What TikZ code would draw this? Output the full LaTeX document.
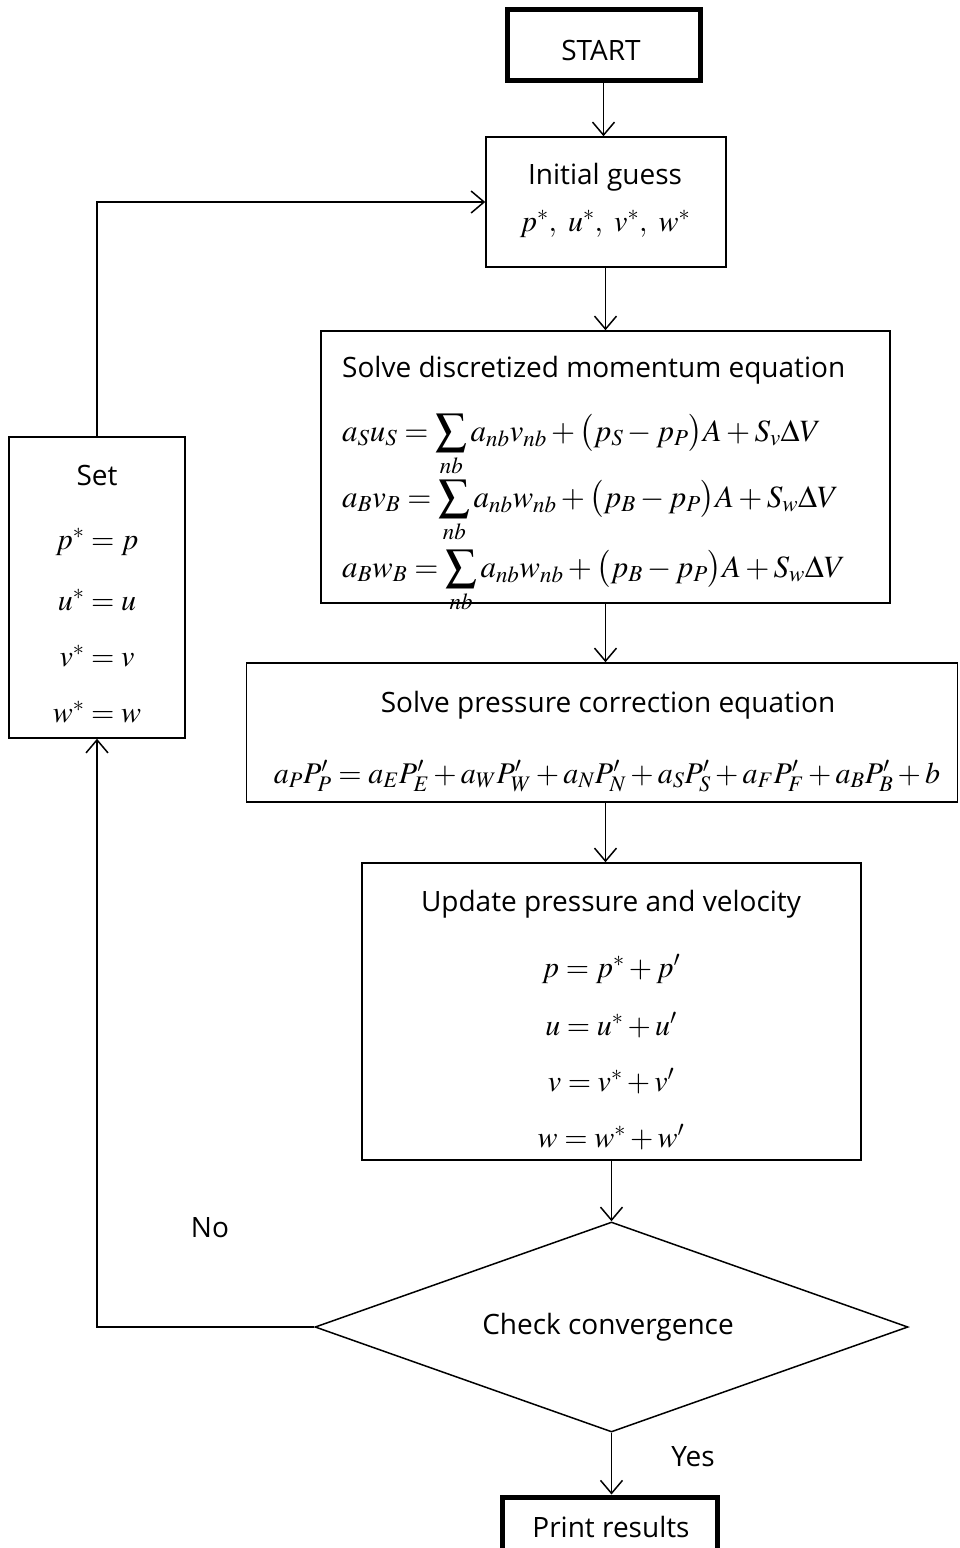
\documentclass[tikz,border=0pt]{standalone}
\usepackage{mathptmx}
\usepackage[no-math]{fontspec}
\setmainfont{Open Sans}
\usetikzlibrary{arrows.meta,shapes.geometric,calc}
\tikzset{
  box/.style={draw, line width=1.5pt, rectangle, inner sep=0pt},
  thickbox/.style={draw, line width=5pt, rectangle, inner sep=0pt},
  lbl/.style={font=\fontsize{28}{32}\selectfont, inner sep=0pt},
  eq/.style={font=\fontsize{30}{36}\selectfont, inner sep=0pt},
  eqm/.style={font=\fontsize{31}{36}\selectfont, inner sep=0pt},
  conn/.style={line width=1.5pt, -{Straight Barb[length=13pt,width=22pt,line width=1.5pt]}},
  plain/.style={line width=1.5pt}
}
\begin{document}
\begin{tikzpicture}[x=1pt,y=-1pt]
\useasboundingbox (0,0) rectangle (960,1548);
\clip (0,0) rectangle (960,1548);
% boxes
\node[thickbox, minimum width=193pt, minimum height=71pt] (start) at (603.5,44.5) {};
\node[box, minimum width=240pt, minimum height=130pt] (init) at (606,202) {};
\node[box, minimum width=569pt, minimum height=272pt] (mom) at (605.5,467) {};
\node[box, minimum width=711pt, minimum height=139pt] (pres) at (602,732.5) {};
\node[box, minimum width=499pt, minimum height=297pt] (upd) at (611.5,1011.5) {};
\node[draw, line width=1.5pt, diamond, inner sep=0pt, minimum width=593pt, minimum height=210pt] (dia) at (611.5,1327) {};
\node[box, minimum width=176pt, minimum height=301pt] (set) at (97,587.5) {};
\node[thickbox, minimum width=215pt, minimum height=66pt] (print) at (609.5,1530) {};
% texts
\node[lbl] (tstart) at (601,50) {START};
\node[lbl] (tinit) at (605,177) {Initial guess};
\node[eq] (einit) at (605,224) {$p^{*},\ u^{*},\ v^{*},\ w^{*}$};
\node[lbl, anchor=west] (tmom) at (342,370) {Solve discretized momentum equation};
\node[eqm, anchor=base west] (em1) at (342,441) {$a_S u_S = \displaystyle\sum_{nb} a_{nb} v_{nb} + \bigl(p_S - p_P\bigr)A + S_v \Delta V$};
\node[eqm, anchor=base west] (em2) at (342,507) {$a_B v_B = \displaystyle\sum_{nb} a_{nb} w_{nb} + \bigl(p_B - p_P\bigr)A + S_w \Delta V$};
\node[eqm, anchor=base west] (em3) at (342,577) {$a_B w_B = \displaystyle\sum_{nb} a_{nb} w_{nb} + \bigl(p_B - p_P\bigr)A + S_w \Delta V$};
\node[lbl] (tpres) at (608,705) {Solve pressure correction equation};
\node[eq, anchor=base] (epres) at (607,783) {$a_P P'_P = a_E P'_E + a_W P'_W + a_N P'_N + a_S P'_S + a_F P'_F + a_B P'_B + b$};
\node[lbl] (tupd) at (611,904) {Update pressure and velocity};
\node[eq, anchor=base] (eu1) at (611,977) {$p = p^{*} + p'$};
\node[eq, anchor=base] (eu2) at (611,1035) {$u = u^{*} + u'$};
\node[eq, anchor=base] (eu3) at (611,1091) {$v = v^{*} + v'$};
\node[eq, anchor=base] (eu4) at (611,1147) {$w = w^{*} + w'$};
\node[lbl] (tset) at (97,475) {Set};
\node[eq] (es1) at (97,542) {$p^{*} = p$};
\node[eq] (es2) at (97,600) {$u^{*} = u$};
\node[eq] (es3) at (97,656) {$v^{*} = v$};
\node[eq] (es4) at (97,712) {$w^{*} = w$};
\node[lbl] (tdia) at (608,1327) {Check convergence};
\node[lbl] (tno) at (210,1228) {No};
\node[lbl] (tyes) at (693,1457) {Yes};
\node[lbl] (tprint) at (611,1527) {Print results};
% connectors
\draw[conn] (start.south) -- (start.south |- init.north);
\draw[conn] (mom.north |- init.south) -- (mom.north);
\draw[conn] (mom.south) -- (mom.south |- pres.north);
\draw[conn] (mom.south |- pres.south) -- (mom.south |- upd.north);
\draw[conn] (dia.north |- upd.south) -- (dia.north);
\draw[conn] (dia.south) -- (dia.south |- print.north);
\coordinate (c1) at (set.south |- dia.west);
\draw[conn] (dia.west) -- (c1) -- (set.south);
\coordinate (c2) at (set.north |- init.west);
\draw[conn] (set.north) -- (c2) -- (init.west);
\end{tikzpicture}
\end{document}
